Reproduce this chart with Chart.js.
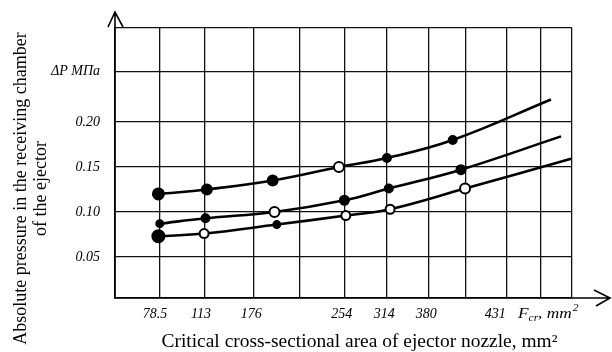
<!DOCTYPE html>
<html>
<head>
<meta charset="utf-8">
<script src="https://cdn.jsdelivr.net/npm/chart.js@4/dist/chart.umd.min.js"></script>
<style>
  html, body { margin: 0; padding: 0; background: #fff; }
  canvas { display: block; }
</style>
</head>
<body>
<canvas id="myChart" width="612" height="352"></canvas>
<script>
// x axis is drawn out of scale in the original, so x is a position along the axis (0..100)
var gridPos = [0, 9.7, 19.7, 30.4, 40.5, 50.2, 59.5, 68.6, 76.8, 85.7, 93.2, 100];
var xTickPos = [8.75, 18.8, 29.8, 49.6, 58.9, 68.1, 83.2];
var xTickLabels = ['78.5', '113', '176', '254', '314', '380', '431'];
// top line carries the unit label instead of a value
var yTickVals = [0.05, 0.10, 0.15, 0.20, 0.256];
var yTickLabels = ['0.05', '0.10', '0.15', '0.20', 'ΔP МПа'];

// three curves, last point of each is the curve end (no marker)
var xTop = [9.5, 20.1, 34.5, 49.0, 59.5, 73.9, 95.4];
var yTop = [0.120, 0.125, 0.135, 0.150, 0.160, 0.180, 0.225];
var xMid = [9.8, 19.8, 34.9, 50.2, 59.9, 75.7, 97.6];
var yMid = [0.087, 0.093, 0.100, 0.113, 0.126, 0.147, 0.184];
var xLow = [9.5, 19.5, 35.4, 50.5, 60.2, 76.6, 99.8];
var yLow = [0.073, 0.076, 0.086, 0.096, 0.103, 0.126, 0.159];

var yMin = 0.0044, yMax = 0.3044;

function pts(xs, ys) {
  return xs.map(function (x, i) { return { x: x, y: ys[i] }; });
}

// marker looks
var K = '#000', W = '#fff';
function line(data, radius, fill) {
  return {
    data: data,
    borderColor: '#000',
    borderWidth: 2.6,
    fill: false,
    tension: 0.4,
    pointRadius: radius,
    pointBackgroundColor: fill,
    pointBorderColor: '#000',
    pointBorderWidth: 2
  };
}

var serif = "'Liberation Serif', 'Times New Roman', serif";

var extras = {
  id: 'extras',
  afterDraw: function (chart) {
    var c = chart.ctx, a = chart.chartArea, xs = chart.scales.x;
    c.save();
    c.strokeStyle = '#000';
    c.lineWidth = 1.6;
    // axis arrows
    c.beginPath();
    c.moveTo(a.left, a.top); c.lineTo(a.left, 12);
    c.moveTo(a.left - 7, 27); c.lineTo(a.left, 12); c.lineTo(a.left + 8, 27);
    c.moveTo(a.right, a.bottom); c.lineTo(610, a.bottom);
    c.moveTo(594, a.bottom - 8); c.lineTo(610, a.bottom); c.lineTo(596, a.bottom + 8);
    c.stroke();

    c.fillStyle = '#000';
    c.textBaseline = 'middle';
    c.textAlign = 'center';
    c.font = 'italic 14px ' + serif;
    xTickPos.forEach(function (p, i) {
      c.fillText(xTickLabels[i], xs.getPixelForValue(p), 314);
    });

    // F_cr, mm2
    c.save();
    c.translate(518, 0);
    c.scale(1.15, 1);
    c.textAlign = 'left';
    var x0 = 0;
    c.font = 'italic 15px ' + serif;
    c.fillText('F', x0, 314);
    x0 += c.measureText('F').width;
    c.font = 'italic 10px ' + serif;
    c.fillText('cr', x0, 318);
    x0 += c.measureText('cr').width;
    c.font = 'italic 15px ' + serif;
    c.fillText(', mm', x0, 314);
    x0 += c.measureText(', mm').width;
    c.font = 'italic 10px ' + serif;
    c.fillText('2', x0 + 1, 308);
    c.restore();

    // axis titles
    c.save();
    c.textAlign = 'center';
    c.textBaseline = 'alphabetic';
    c.translate(359.5, 347);
    c.scale(1.08, 1);
    c.font = '18px ' + serif;
    c.fillText('Critical cross-sectional area of ejector nozzle, mm²', 0, 0);
    c.restore();

    c.translate(0, 188.5);
    c.rotate(-Math.PI / 2);
    c.font = '18px ' + serif;
    c.fillText('Absolute pressure in the receiving chamber', 0, 21);
    c.fillText('of the ejector', 0, 41);
    c.restore();
  }
};

var ctx = document.getElementById('myChart');
var myChart = new Chart(ctx, {
  type: 'scatter',
  data: {
    datasets: [
      line(pts(xTop, yTop), [5.5, 5, 5, 5, 4, 4, 0], [K, K, K, W, K, K, K]),
      line(pts(xMid, yMid), [3.5, 4, 5, 4.5, 4, 4.5, 0], [K, K, W, K, K, K, K]),
      line(pts(xLow, yLow), [6, 4.5, 3.5, 4.5, 4.5, 5, 0], [K, W, K, W, W, W, K])
    ]
  },
  options: {
    responsive: false,
    animation: false,
    devicePixelRatio: 1,
    showLine: true,
    layout: { padding: { top: 28, right: 40, left: 0, bottom: 0 } },
    plugins: { legend: { display: false }, tooltip: { enabled: false } },
    scales: {
      x: {
        type: 'linear',
        min: 0,
        max: 100,
        afterBuildTicks: function (s) {
          s.ticks = gridPos.map(function (v) { return { value: v }; });
        },
        afterFit: function (s) { s.height = 54; },
        ticks: { display: false },
        grid: { color: '#111', lineWidth: 1.3, drawTicks: false },
        border: { color: '#000', width: 1.8 }
      },
      y: {
        min: yMin,
        max: yMax,
        afterBuildTicks: function (s) {
          s.ticks = [yMin].concat(yTickVals, [yMax]).map(function (v) { return { value: v }; });
        },
        afterFit: function (s) { s.width = 115; },
        ticks: {
          color: '#000',
          padding: 15,
          font: { family: serif, size: 14, style: 'italic' },
          callback: function (v) {
            for (var i = 0; i < yTickVals.length; i++) {
              if (Math.abs(yTickVals[i] - v) < 1e-6) return yTickLabels[i];
            }
            return '';
          }
        },
        grid: { color: '#111', lineWidth: 1.3, drawTicks: false },
        border: { color: '#000', width: 1.8 }
      }
    }
  },
  plugins: [extras]
});
</script>
</body>
</html>
